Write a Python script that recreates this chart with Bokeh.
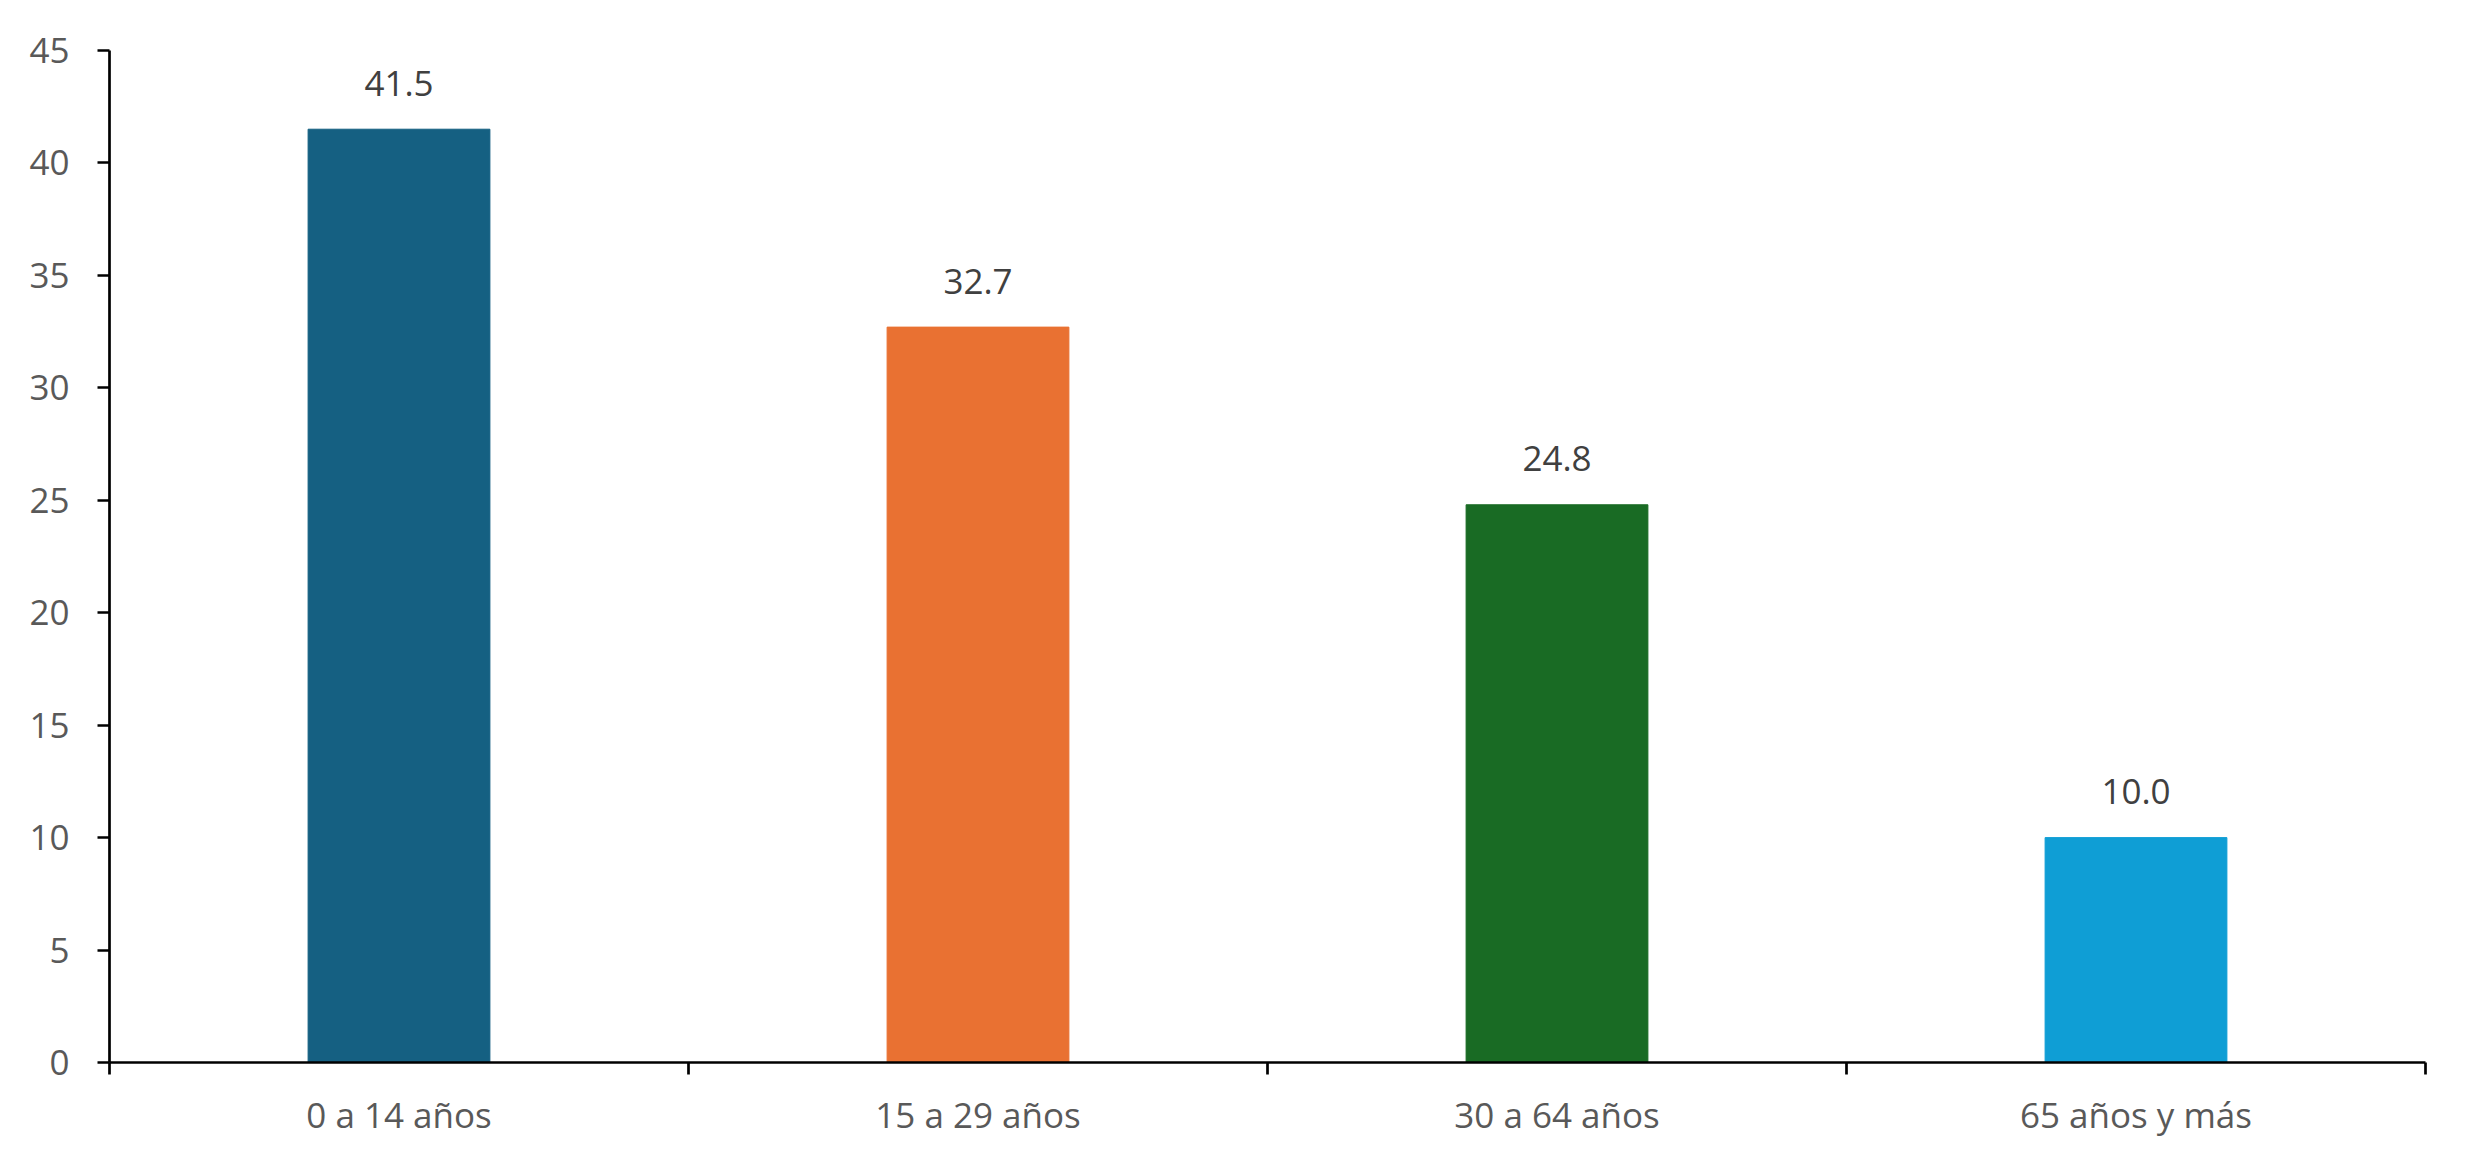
from bokeh.plotting import figure
from bokeh.models import ColumnDataSource, Range1d, FixedTicker, LabelSet
from bokeh.core.properties import value
from bokeh.embed import file_html
from bokeh.resources import INLINE

categories = ["0 a 14 años", "15 a 29 años", "30 a 64 años", "65 años y más"]
values = [41.5, 32.7, 24.8, 10.0]
colors = ["#156082", "#E97132", "#196B24", "#0F9ED5"]
y_ticks = [0, 5, 10, 15, 20, 25, 30, 35, 40, 45]

FONT = "Open Sans"
FS = "35px"

xpos = [i + 0.5 for i in range(len(categories))]
src = ColumnDataSource(dict(
    x=xpos, top=values, color=colors,
    label=[f"{v:.1f}" for v in values],
))

p = figure(width=2459, height=1152, output_backend="svg", toolbar_location=None,
           x_range=Range1d(0, len(categories)), y_range=Range1d(0, 45),
           min_border_left=109, min_border_right=34, min_border_top=50, min_border_bottom=90)
p.outline_line_color = None
p.grid.visible = False
p.background_fill_color = "white"
p.border_fill_color = "white"

p.vbar(x="x", top="top", width=0.314, color="color", source=src)

labels = LabelSet(x="x", y="top", text="label", source=src, text_align="center",
                  text_baseline="middle", y_offset=46, text_font=value(FONT),
                  text_font_size=value(FS), text_color="#404040")
p.add_layout(labels)

# y axis
ya = p.yaxis[0]
ya.ticker = FixedTicker(ticks=y_ticks)
ya.axis_line_color = "black"
ya.axis_line_width = 2.7
ya.major_tick_line_color = "black"
ya.major_tick_line_width = 2.7
ya.major_tick_out = 12
ya.major_tick_in = 0
ya.minor_tick_line_color = None
ya.major_label_standoff = 28
ya.major_label_text_font = FONT
ya.major_label_text_font_size = FS
ya.major_label_text_color = "#595959"

# x axis
xa = p.xaxis[0]
xa.ticker = FixedTicker(ticks=xpos, minor_ticks=list(range(len(categories) + 1)))
xa.major_label_overrides = {x: c for x, c in zip(xpos, categories)}
xa.axis_line_color = "black"
xa.axis_line_width = 2.7
xa.major_tick_line_color = None
xa.major_tick_out = 12
xa.major_tick_in = 0
xa.minor_tick_line_color = "black"
xa.minor_tick_line_width = 2.7
xa.minor_tick_out = 12
xa.minor_tick_in = 0
xa.major_label_standoff = 16
xa.major_label_text_font = FONT
xa.major_label_text_font_size = FS
xa.major_label_text_color = "#595959"

open("out.html", "w").write(file_html(p, INLINE))
